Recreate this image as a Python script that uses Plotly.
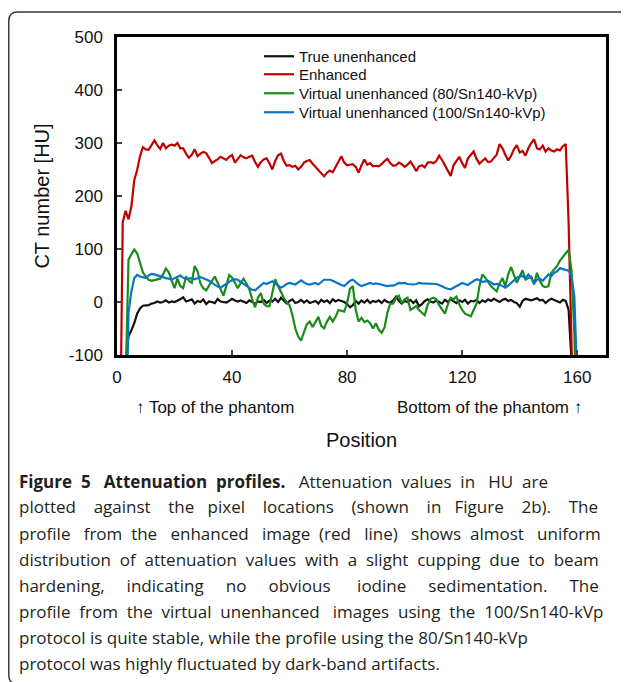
import plotly.graph_objects as go

# pixel positions along the profile
position = list(range(1, 161))

true_unenhanced = [
    -300, -300, -110, -65, -53, -40, -22, -12, -7, -6,
    -6, -3, -2, 1, -1, 0, 3, -1, 1, 0,
    2, 5, 9, 1, 3, 5, -3, 2, 0, 5,
    -4, 1, 0, -2, 6, 1, 0, -1, 2, 6,
    3, 1, 3, 0, -2, 3, 0, -3, 1, 0,
    4, -2, 3, 1, 6, 0, 8, 2, -3, 2,
    5, -2, 0, 4, -1, 3, -2, 0, 2, -3,
    4, 0, 3, -2, 5, 1, 4, 2, 0, -4,
    -10, -6, 2, -3, 3, -1, 4, -2, 2, 0,
    3, -2, 4, 0, -1, 3, 10, 2, -3, 2,
    0, 4, -2, 3, -8, -4, 2, 5, 1, -1,
    3, 0, -3, 4, 0, 5, 2, -2, 3, 0,
    4, -3, 2, 1, 4, -2, 3, 0, 5, 2,
    6, 3, 0, 4, 6, 2, 4, 0, -2, -9,
    2, 6, 4, 3, 5, 7, 3, 4, -2, 3,
    6, 4, 2, -1, 4, 2, -15, -120, -300, -300,
]

enhanced = [
    -300, 150, 172, 156, 180, 230, 249, 275, 292, 288,
    287, 296, 305, 296, 289, 300, 290, 295, 297, 295,
    300, 290, 290, 280, 272, 278, 288, 275, 280, 283,
    281, 272, 262, 266, 269, 274, 271, 268, 274, 277,
    263, 270, 277, 273, 271, 274, 276, 264, 255, 264,
    269, 271, 262, 250, 266, 277, 280, 266, 257, 258,
    255, 257, 250, 255, 263, 266, 268, 261, 255, 249,
    244, 237, 244, 248, 245, 256, 266, 275, 263, 258,
    259, 260, 255, 244, 258, 269, 259, 262, 256, 257,
    256, 260, 266, 270, 262, 257, 258, 263, 260, 255,
    259, 265, 257, 247, 256, 258, 254, 263, 264, 262,
    266, 276, 268, 257, 248, 238, 258, 266, 274, 262,
    253, 271, 278, 284, 270, 261, 266, 271, 264, 265,
    272, 278, 298, 290, 278, 267, 276, 288, 296, 282,
    285, 276, 290, 300, 307, 290, 288, 295, 284, 290,
    286, 284, 288, 286, 294, 298, 150, -150, -300, -300,
]

virtual_80 = [
    -300, -300, -150, 80, 90, 99, 92, 72, 56, 48,
    42, 40, 41, 42, 44, 52, 63, 56, 40, 26,
    44, 30, 26, 48, 40, 36, 68, 58, 35, 26,
    22, 32, 40, 48, 35, 22, 12, 30, 51, 46,
    35, 26, 36, 44, 35, 24, 5, -10, 8, 17,
    -3, -8, -8, 20, 43, 30, 18, 8, 0, -6,
    -25, -50, -65, -73, -57, -42, -37, -47, -38, -28,
    -45, -50, -37, -28, -37, -28, -15, -16, -18, -2,
    25, 30, -15, -37, -30, -38, -35, -40, -50, -40,
    -52, -58, -48, -20, -3, -3, 8, 12, -2, 5,
    8, -15, -12, -8, -15, -20, -25, -5, 6, 8,
    5, -6, -15, -22, -5, 8, 5, 10, -5, -15,
    -22, -25, -27, -15, -3, 30, 52, 46, 38, 30,
    25, 20, 35, 45, 30, 52, 66, 52, 36, 48,
    60, 42, 45, 48, 33, 55, 40, 30, 28, 30,
    55, 62, 68, 78, 86, 92, 98, 60, -60, -300,
]

virtual_100 = [
    -300, -300, -300, -20, 20, 45, 51, 48, 46, 45,
    50, 53, 52, 50, 48, 47, 45, 44, 42, 45,
    48, 50, 46, 43, 44, 45, 43, 45, 47, 45,
    43, 40, 36, 32, 29, 27, 31, 35, 38, 41,
    43, 42, 38, 35, 31, 27, 23, 22, 27, 32,
    36, 34, 36, 39, 35, 31, 27, 30, 34, 36,
    35, 33, 37, 41, 37, 34, 33, 35, 36, 33,
    37, 42, 42, 42, 40, 37, 35, 32, 30, 35,
    40, 42, 37, 33, 30, 32, 35, 36, 34, 35,
    34, 33, 31, 30, 31, 31, 33, 36, 35, 36,
    34, 33, 33, 34, 36, 35, 35, 35, 35, 34,
    34, 32, 29, 27, 25, 24, 27, 30, 33, 36,
    34, 32, 36, 39, 43, 41, 38, 39, 40, 37,
    33, 34, 33, 30, 27, 31, 36, 41, 46, 48,
    49, 45, 52, 45, 36, 42, 44, 40, 46, 52,
    49, 55, 58, 64, 62, 61, 59, 50, 10, -150,
]

series_names = [
    "True unenhanced",
    "Enhanced",
    "Virtual unenhanced (80/Sn140-kVp)",
    "Virtual unenhanced (100/Sn140-kVp)",
]
series_values = [true_unenhanced, enhanced, virtual_80, virtual_100]
series_colors = ["#111111", "#C00000", "#1A8C1A", "#0A74C8"]

x_ticks = [0, 40, 80, 120, 160]
y_ticks = [-100, 0, 100, 200, 300, 400, 500]
y_tick_labels = ["-100", "0", "100", "200", "300", "400", "500"]

caption_lines = [
    "<b>Figure 5 Attenuation profiles.</b> Attenuation values in HU are",
    "plotted against the pixel locations (shown in Figure 2b). The",
    "profile from the enhanced image (red line) shows almost uniform",
    "distribution of attenuation values with a slight cupping due to beam",
    "hardening, indicating no obvious iodine sedimentation. The",
    "profile from the virtual unenhanced images using the 100/Sn140-kVp",
    "protocol is quite stable, while the profile using the 80/Sn140-kVp",
    "protocol was highly fluctuated by dark-band artifacts.",
]
# rough extra width (px) to mimic the justified caption
caption_extra = [50, 110, 65, 45, 110, 40, 0, 0]

# page is offset by the default 8px body margin
OFF = 8
PAGE_W, PAGE_H = 629, 682
L, R, T, B = 117, 606, 37, 355   # plot area in page pixels


def px2paper(px, py):
    return (px - L) / (R - L), (B - py) / (B - T)


def justify(line, extra_px, space_px=4.4):
    words = line.split(" ")
    gaps = len(words) - 1
    n = int(round(extra_px / space_px))
    out = words[0]
    done = 0
    for i in range(1, len(words)):
        k = int(round(n * i / gaps)) - done
        done += k
        out += " " + "&nbsp;" * k + words[i]
    return out


fig = go.Figure()
legend_ids = ["legend", "legend2", "legend3", "legend4"]
for name, vals, col, lg in zip(series_names, series_values, series_colors, legend_ids):
    fig.add_trace(go.Scatter(
        x=position, y=vals, name=name, mode="lines", legend=lg,
        line=dict(color=col, width=2.2),
    ))

axis_font = dict(family="Liberation Sans, Arial", size=17, color="#111111")
legend_font = dict(family="Liberation Sans, Arial", size=15, color="#111111")

legend_tops = [40, 58, 77, 96]
legends = {}
for lg, top in zip(legend_ids, legend_tops):
    legends[lg] = dict(
        x=px2paper(259, 0)[0], y=px2paper(0, top)[1],
        xanchor="left", yanchor="top", bgcolor="rgba(0,0,0,0)",
        font=legend_font,
    )

fig.update_layout(
    width=PAGE_W - OFF, height=PAGE_H - OFF,
    margin=dict(l=L - OFF, r=PAGE_W - R, t=T - OFF, b=PAGE_H - B),
    paper_bgcolor="white", plot_bgcolor="white",
    font=axis_font,
    showlegend=True,
    xaxis=dict(
        range=[0, 170], tickvals=x_ticks, ticks="inside", ticklen=5, tickwidth=2,
        showline=True, linecolor="black", linewidth=2.5, mirror=True,
        showgrid=False, zeroline=False, ticklabelstandoff=5,
        title=dict(text="Position", standoff=47),
    ),
    yaxis=dict(
        range=[-100, 500], tickvals=y_ticks, ticktext=y_tick_labels,
        ticks="inside", ticklen=5, tickwidth=2,
        showline=True, linecolor="black", linewidth=2.5, mirror=True,
        showgrid=False, zeroline=False, ticklabelstandoff=8,
        title=dict(text="CT number [HU]", standoff=14),
    ),
    **legends,
)

# labels under the axis
ax, ay = px2paper(134, 407)
fig.add_annotation(x=ax, y=ay, xref="paper", yref="paper", text="↑ Top of the phantom",
                   showarrow=False, xanchor="left", yanchor="middle", font=axis_font)
ax, ay = px2paper(584, 407)
fig.add_annotation(x=ax, y=ay, xref="paper", yref="paper", text="Bottom of the phantom ↑",
                   showarrow=False, xanchor="right", yanchor="middle", font=axis_font)

# caption
cap_font = dict(family="Open Sans", size=17, color="#231f20")
for i, (line, extra) in enumerate(zip(caption_lines, caption_extra)):
    cx, cy = px2paper(17, 481 + 26 * i)
    fig.add_annotation(x=cx, y=cy, xref="paper", yref="paper", text=justify(line, extra),
                       showarrow=False, xanchor="left", yanchor="middle", font=cap_font)

# rounded frame around the figure
x0, x1, y0, y1, r = 8.75, 628, 12, 684, 9
pts = [
    ("M", [(x0 + r, y0)]), ("L", [(x1 - r, y0)]), ("Q", [(x1, y0), (x1, y0 + r)]),
    ("L", [(x1, y1 - r)]), ("Q", [(x1, y1), (x1 - r, y1)]), ("L", [(x0 + r, y1)]),
    ("Q", [(x0, y1), (x0, y1 - r)]), ("L", [(x0, y0 + r)]), ("Q", [(x0, y0), (x0 + r, y0)]),
]
path = ""
for cmd, coords in pts:
    path += cmd + " ".join("%.5f,%.5f" % px2paper(px, py) for px, py in coords) + " "
fig.add_shape(type="path", path=path + "Z", xref="paper", yref="paper",
              line=dict(color="#3a3a3a", width=1.5))

fig.write_html("out.html")
